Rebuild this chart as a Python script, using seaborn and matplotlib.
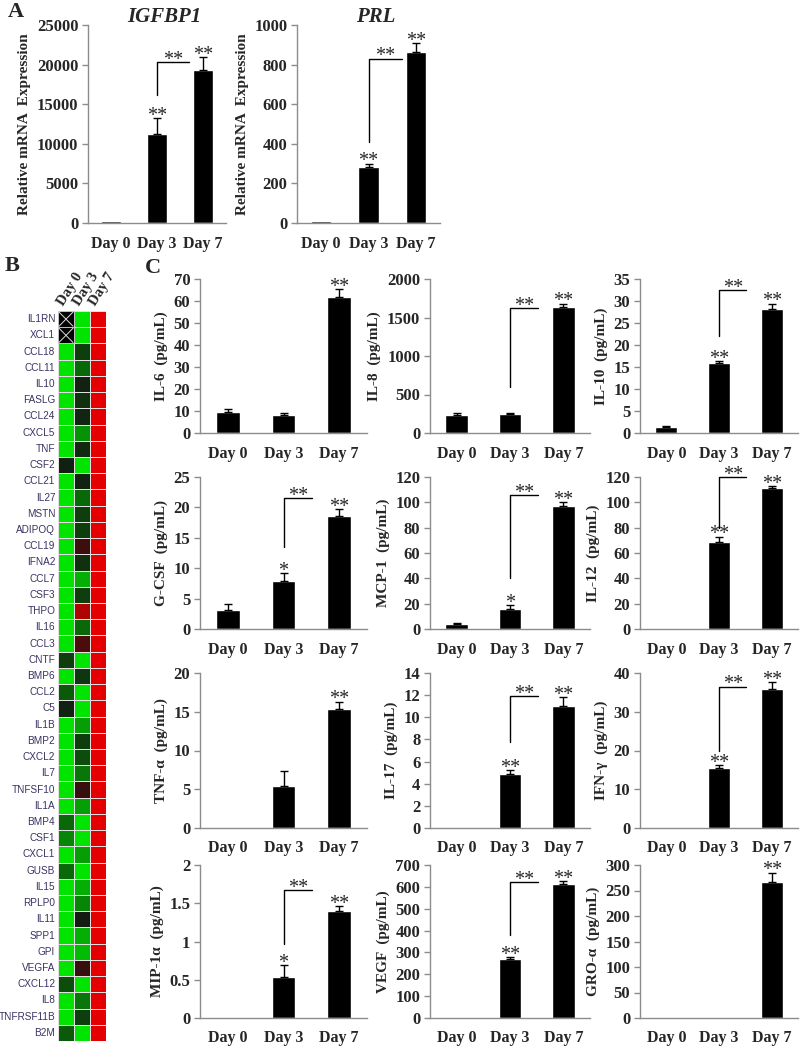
import numpy as np
import pandas as pd
import matplotlib
matplotlib.use("Agg")
import matplotlib.pyplot as plt
import seaborn as sns
from matplotlib.colors import LinearSegmentedColormap

# ---- data -------------------------------------------------------------
days = ["Day 0", "Day 3", "Day 7"]

# panel A: relative mRNA expression
a_names = ["IGFBP1", "PRL"]
a_means = [[250, 11300, 19300], [8, 285, 865]]
a_errs = [[0, 1900, 1600], [0, 15, 45]]
a_marks = [["", "**", "**"], ["", "**", "**"]]
a_brackets = [(16200, 20300), (410, 830)]
a_ymax = [25000, 1000]
a_ystep = [5000, 200]

# panel B: heatmap (-1 = low / green, 0 = black, 1 = high / red, nan = no data)
genes = ["IL1RN", "XCL1", "CCL18", "CCL11", "IL10", "FASLG", "CCL24", "CXCL5",
         "TNF", "CSF2", "CCL21", "IL27", "MSTN", "ADIPOQ", "CCL19", "IFNA2",
         "CCL7", "CSF3", "THPO", "IL16", "CCL3", "CNTF", "BMP6", "CCL2", "C5",
         "IL1B", "BMP2", "CXCL2", "IL7", "TNFSF10", "IL1A", "BMP4", "CSF1",
         "CXCL1", "GUSB", "IL15", "RPLP0", "IL11", "SPP1", "GPI", "VEGFA",
         "CXCL12", "IL8", "TNFRSF11B", "B2M"]
day0_level = [np.nan, np.nan, -1, -1, -1, -1, -1, -1,
              -1, -0.08, -1, -1, -1, -1, -1, -1,
              -1, -1, -1, -1, -1, -0.3, -1, -0.5, -0.1,
              -1, -1, -1, -1, -1, -1, -0.55, -0.65,
              -1, -0.55, -1, -1, -1, -1, -1, -1,
              -0.4, -1, -1, -0.5]
day3_level = [-1, -1, -0.3, -0.55, -0.1, -0.2, -0.12, -0.7,
              -0.15, -1, -0.1, -0.55, -0.3, -0.3, 0.3, -0.2,
              -0.8, -0.3, 0.8, -0.55, 0.4, -1, -0.25, -1, -1,
              -0.75, -0.3, -0.4, -0.6, 0.25, -0.75, -1, -1,
              -0.75, -1, -0.8, -0.65, -0.05, -0.8, -0.85, 0.25,
              -1, -0.6, -0.3, -1]
day7_level = [1.0] * len(genes)

# panel C: cytokines (pg/mL)
c_names = ["IL-6", "IL-8", "IL-10", "G-CSF", "MCP-1", "IL-12",
           "TNF-α", "IL-17", "IFN-γ", "MIP-1α", "VEGF", "GRO-α"]
c_means = [[9.5, 8, 62], [240, 250, 1630], [1.4, 15.8, 28.2],
           [3.2, 7.9, 18.6], [4, 16, 97], [0, 69, 111],
           [0, 5.4, 15.4], [0, 4.9, 11], [0, 15.5, 35.8],
           [0, 0.54, 1.4], [0, 270, 615], [0, 0, 267]]
c_errs = [[1.5, 1, 3.5], [15, 15, 50], [0.2, 0.5, 1.2],
          [0.9, 1.3, 1.1], [0.5, 3, 3], [0, 4, 2],
          [0, 2, 0.9], [0, 0.3, 0.8], [0, 0.8, 1.8],
          [0, 0.15, 0.06], [0, 10, 10], [0, 0, 18]]
c_marks = [["", "", "**"], ["", "", "**"], ["", "**", "**"],
           ["", "*", "**"], ["", "*", "**"], ["", "**", "**"],
           ["", "", "**"], ["", "**", "**"], ["", "**", "**"],
           ["", "*", "**"], ["", "**", "**"], ["", "", "**"]]
c_brackets = [None, (600, 1620), (22, 32.5),
              (13.5, 21.5), (40, 106), (80, 120),
              None, (7.8, 11.9), (20, 36.5),
              (0.97, 1.67), (380, 620), None]
c_ymax = [70, 2000, 35, 25, 120, 120, 20, 14, 40, 2, 700, 300]
c_ystep = [10, 500, 5, 5, 20, 20, 5, 2, 10, 0.5, 100, 50]

# ---- style ------------------------------------------------------------
sns.set_style("white")
plt.rcParams["font.family"] = ["Liberation Serif", "DejaVu Serif"]
W, H = 800, 1046
fig = plt.figure(figsize=(W / 100, H / 100), dpi=100)
SPINE = "#8c8c8c"


def px_axes(x0, y0, x1, y1):
    return fig.add_axes([x0 / W, 1 - y1 / H, (x1 - x0) / W, (y1 - y0) / H])


def stars(ax, x, y, s, fs):
    ax.annotate(s, (x, y), xytext=(0, -2), textcoords="offset points",
                ha="center", va="baseline", fontsize=fs,
                family=["Liberation Serif"], annotation_clip=False)


def bar_panel(ax, means, errs, marks, bracket, ymax, ystep, ylabel,
              br_end=1.52, tick_fs=12, star_fs=14.5):
    df = pd.DataFrame({"day": days, "value": means})
    sns.barplot(data=df, x="day", y="value", color="black", width=0.42,
                saturation=1, ax=ax, errorbar=None)
    for i, (m, e) in enumerate(zip(means, errs)):
        if e > 0:
            ax.errorbar(i, m, yerr=[[0], [e]], fmt="none", ecolor="black",
                        elinewidth=1, capsize=3, capthick=1)
    for i, (m, e, s) in enumerate(zip(means, errs, marks)):
        if s:
            stars(ax, i, m + e, s, star_fs)
    if bracket is not None:
        lo, hi = bracket
        ax.plot([1, 1, br_end], [lo, hi, hi], color="black", lw=1,
                clip_on=False)
        stars(ax, (1 + br_end) / 2, hi, "**", star_fs)
    ax.set_ylim(0, ymax)
    ax.set_xlim(-0.5, 2.5)
    yt = np.arange(0, ymax + ystep / 2, ystep)
    ax.set_yticks(yt)
    ax.set_yticklabels([f"{v:g}" for v in yt],
                       fontsize=tick_fs, fontweight="bold")
    ax.set_xticks([0, 1, 2])
    ax.set_xticklabels(days, fontsize=tick_fs - 0.5, fontweight="bold")
    ax.set_xticks([-0.5, 0.5, 1.5, 2.5], minor=True)
    ax.tick_params(axis="x", which="major", length=0, pad=9)
    ax.tick_params(axis="x", which="minor", length=5, color=SPINE, width=1)
    ax.tick_params(axis="y", length=4, color=SPINE, width=1, pad=3, left=True)
    for sp in ["top", "right"]:
        ax.spines[sp].set_visible(False)
    for sp in ["left", "bottom"]:
        ax.spines[sp].set_color(SPINE)
        ax.spines[sp].set_linewidth(1)
    ax.set_xlabel("")
    ax.set_ylabel(ylabel, fontsize=11, fontweight="bold", labelpad=4)
    ax.set_facecolor("white")


# ---- panel A ------------------------------------------------------------
a_boxes = [(88, 25, 226, 223), (297, 25, 440, 223)]
for k, box in enumerate(a_boxes):
    ax = px_axes(*box)
    bar_panel(ax, a_means[k], a_errs[k], a_marks[k], a_brackets[k],
              a_ymax[k], a_ystep[k], "Relative mRNA  Expression",
              br_end=1.7, tick_fs=12)
    ax.set_title(a_names[k], fontsize=15, fontweight="bold", style="italic",
                 pad=2, x=0.55)
fig.text(8 / W, 1 - 12 / H, "A", fontsize=16, fontweight="bold",
         va="center", ha="left")

# ---- panel B ------------------------------------------------------------
heat = pd.DataFrame({"Day 0": day0_level, "Day 3": day3_level,
                     "Day 7": day7_level}, index=genes)
cmap = LinearSegmentedColormap.from_list(
    "gkr", ["#00e400", "#0a5a0a", "#141414", "#5a0a0a", "#e40000"])
axh = px_axes(58, 311, 106, 1041)
sns.heatmap(heat, cmap=cmap, vmin=-1, vmax=1, cbar=False, linewidths=0.5,
            linecolor="#e0e0e0", xticklabels=True, yticklabels=True, ax=axh)
missing = heat.isna()
for r in range(len(genes)):
    for c in range(3):
        if missing.iat[r, c]:
            axh.add_patch(plt.Rectangle((c, r), 1, 1, facecolor="black",
                                        edgecolor="#e0e0e0", lw=0.5))
            axh.plot([c + 0.06, c + 0.94], [r + 0.06, r + 0.94],
                     color="#dddddd", lw=0.7)
            axh.plot([c + 0.06, c + 0.94], [r + 0.94, r + 0.06],
                     color="#dddddd", lw=0.7)
axh.xaxis.tick_top()
axh.set_xticks(np.arange(3) + 0.5)
axh.set_xticklabels(list(heat.columns), rotation=58, ha="left", va="bottom",
                    rotation_mode="anchor", fontsize=10.5, fontweight="bold")
axh.set_yticks(np.arange(len(genes)) + 0.5)
axh.set_yticklabels(genes, rotation=0, fontsize=7.2, color="#3b3262",
                    family=["Liberation Sans"])
axh.tick_params(length=0, pad=2)
axh.set_xlabel("")
axh.set_ylabel("")
fig.text(5 / W, 1 - 266 / H, "B", fontsize=16, fontweight="bold",
         va="center", ha="left")

# ---- panel C ------------------------------------------------------------
col_x = [(200, 367), (430, 590), (640, 798)]
row_y = [(279, 433), (477, 629), (673, 828), (865, 1018)]
for k, name in enumerate(c_names):
    r, c = divmod(k, 3)
    x0, x1 = col_x[c]
    y0, y1 = row_y[r]
    ax = px_axes(x0, y0, x1, y1)
    bar_panel(ax, c_means[k], c_errs[k], c_marks[k], c_brackets[k],
              c_ymax[k], c_ystep[k], f"{name}  (pg/mL)", tick_fs=12)
fig.text(145 / W, 1 - 268 / H, "C", fontsize=16, fontweight="bold",
         va="center", ha="left")

fig.savefig("out.png", dpi=100, facecolor="white")
